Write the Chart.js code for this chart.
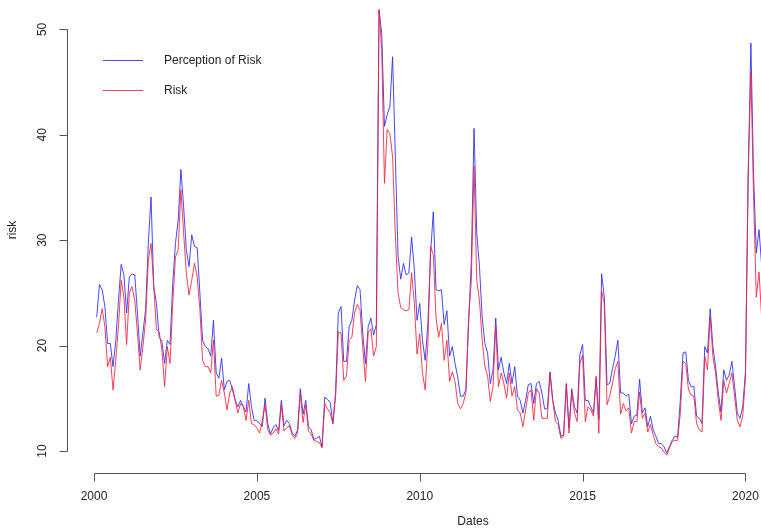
<!DOCTYPE html>
<html>
<head>
<meta charset="utf-8">
<script src="https://cdn.jsdelivr.net/npm/chart.js@4.4.1/dist/chart.umd.min.js"></script>
<style>
  html, body { margin: 0; padding: 0; background: #ffffff; }
  #wrap { width: 761px; height: 532px; overflow: hidden; position: relative; }
  canvas { position: absolute; left: 0; top: 0; }
</style>
</head>
<body>
<div id="wrap"><canvas id="c" width="880" height="532"></canvas></div>
<script>
// Monthly series, starting February 2000
const perception = [
  22.7, 25.8, 25.3, 23.7, 20.2, 20.2, 18.0, 20.4, 24.3, 27.7, 26.7, 23.1,
  26.5, 26.8, 26.7, 23.1, 19.0, 21.2, 23.4, 29.7, 34.1, 25.6, 24.0, 20.8,
  20.4, 18.3, 20.5, 20.1, 25.9, 29.7, 31.9, 36.7, 33.2, 29.1, 27.5, 30.5,
  29.4, 29.3, 25.0, 20.5, 19.9, 19.7, 19.0, 22.4, 17.4, 16.9, 18.8, 15.8,
  16.6, 16.7, 15.8, 14.8, 14.2, 14.8, 14.2, 13.7, 16.4, 14.2, 12.9, 12.9,
  12.6, 12.3, 15.0, 12.6, 11.6, 12.2, 12.5, 11.9, 14.8, 12.4, 12.9, 12.6,
  11.7, 11.4, 12.0, 15.9, 13.5, 14.8, 12.3, 12.0, 11.1, 11.2, 11.4, 10.4,
  15.1, 14.9, 14.6, 12.6, 15.5, 23.1, 23.7, 18.5, 18.5, 21.8, 22.4, 24.3,
  25.7, 25.3, 21.2, 18.3, 21.8, 22.6, 21.0, 22.0, 51.8, 49.6, 40.8, 41.9,
  42.7, 47.4, 38.0, 28.5, 26.3, 27.8, 26.7, 26.9, 30.3, 27.2, 22.4, 24.0,
  20.5, 18.6, 22.1, 28.8, 32.7, 25.3, 25.2, 25.3, 22.0, 23.3, 19.0, 19.9,
  18.3, 17.0, 15.2, 15.2, 15.8, 22.0, 28.0, 40.6, 30.7, 27.5, 22.7, 20.2,
  19.3, 16.4, 17.7, 22.6, 17.7, 18.9, 17.4, 16.4, 18.3, 16.4, 18.0, 15.2,
  14.8, 13.6, 14.8, 16.3, 16.4, 14.5, 16.4, 16.6, 15.5, 14.0, 14.0, 17.5,
  14.8, 13.6, 12.9, 11.4, 11.5, 16.4, 12.2, 15.9, 14.2, 13.6, 19.1, 20.1,
  14.8, 14.8, 14.2, 13.6, 16.9, 13.0, 26.8, 24.6, 16.3, 16.4, 17.8, 19.0,
  20.5, 15.5, 15.5, 15.2, 15.4, 12.6, 13.3, 13.4, 16.8, 13.6, 14.1, 12.3,
  13.3, 12.0, 11.4, 10.7, 10.7, 10.4, 9.8, 10.4, 11.0, 11.4, 11.3, 14.8,
  19.3, 19.4, 16.7, 16.1, 16.1, 13.3, 13.1, 12.6, 19.9, 19.3, 23.5, 19.9,
  18.0, 15.5, 13.7, 17.7, 16.7, 17.2, 18.5, 16.1, 13.6, 13.1, 14.2, 17.5,
  36.0, 48.7, 36.0, 28.8, 31.0, 27.5
];
const risk = [
  21.2, 22.1, 23.5, 21.8, 18.0, 18.9, 15.8, 18.6, 21.8, 26.2, 24.6, 20.1,
  25.0, 25.6, 24.3, 21.2, 17.7, 19.9, 22.4, 28.1, 29.7, 25.6, 21.5, 21.3,
  19.6, 16.1, 19.9, 18.3, 24.0, 28.4, 29.1, 34.8, 30.7, 26.9, 24.8, 26.2,
  27.8, 26.5, 23.4, 18.6, 18.0, 18.0, 17.4, 20.5, 15.2, 15.3, 16.7, 15.5,
  13.9, 15.5, 16.1, 14.8, 13.6, 14.5, 14.2, 12.9, 14.8, 12.6, 12.5, 12.2,
  11.7, 12.9, 14.4, 12.0, 11.5, 11.7, 12.1, 11.6, 14.4, 11.9, 12.2, 12.4,
  11.5, 11.2, 11.7, 15.5, 12.7, 14.4, 11.9, 11.6, 11.0, 10.9, 10.8, 10.3,
  14.5, 14.0, 13.6, 12.6, 15.2, 21.3, 21.2, 16.7, 17.1, 20.5, 20.8, 23.1,
  23.9, 23.4, 19.9, 16.6, 21.2, 21.6, 19.0, 19.9, 51.9, 48.0, 35.4, 40.5,
  40.1, 37.9, 30.5, 25.0, 23.6, 23.4, 23.3, 23.4, 26.9, 24.0, 19.2, 21.1,
  17.4, 15.8, 20.2, 29.4, 28.6, 22.6, 20.8, 22.1, 18.6, 20.5, 16.6, 17.5,
  16.6, 14.5, 14.0, 14.5, 15.5, 22.7, 26.2, 37.0, 26.2, 24.3, 20.5, 18.0,
  17.1, 14.7, 16.1, 21.8, 16.1, 17.4, 16.4, 15.0, 17.4, 15.2, 16.1, 13.9,
  13.6, 12.3, 13.9, 15.5, 15.8, 12.9, 15.9, 15.5, 13.1, 13.1, 13.1, 17.4,
  14.8, 12.8, 12.5, 11.2, 11.4, 16.3, 11.7, 15.6, 13.6, 12.8, 18.3, 19.1,
  12.8, 14.2, 13.9, 13.3, 17.1, 11.7, 25.2, 24.0, 14.4, 15.2, 16.4, 17.8,
  18.5, 13.5, 14.5, 13.8, 14.1, 11.7, 12.8, 12.8, 15.6, 13.1, 13.6, 11.8,
  12.5, 11.5, 10.7, 10.4, 10.3, 9.9, 9.6, 10.3, 10.9, 11.0, 11.0, 13.6,
  18.5, 18.3, 15.8, 15.3, 15.2, 12.6, 12.0, 11.8, 19.0, 17.7, 22.7, 19.0,
  17.4, 14.8, 12.9, 16.7, 15.5, 16.4, 17.4, 15.2, 12.9, 12.3, 13.3, 17.0,
  36.3, 46.0, 34.0, 24.6, 27.0, 22.5
];

// Decimal-year time stamps, one per month
const dates = perception.map((_, i) => 2000 + (i + 1) / 12);

const xTicks = [2000, 2005, 2010, 2015, 2020];
const yTicks = [10, 20, 30, 40, 50];
const seriesNames = ['Perception of Risk', 'Risk'];
const xTitle = 'Dates';
const yTitle = 'risk';

const blue = 'rgba(40, 40, 245, 0.85)';
const red = 'rgba(245, 30, 60, 0.85)';
const axisColor = '#555555';
const textColor = '#222222';
const font = '12px "Liberation Sans", Arial, sans-serif';

function pts(values) {
  return values.map((v, i) => ({ x: dates[i], y: v }));
}

// Base-graphics style axes, labels and legend
const baseAxes = {
  id: 'baseAxes',
  afterDraw(chart) {
    const ctx = chart.ctx;
    const xs = chart.scales.x, ys = chart.scales.y;
    const area = chart.chartArea;
    ctx.save();
    ctx.strokeStyle = axisColor;
    ctx.lineWidth = 1;
    ctx.fillStyle = textColor;
    ctx.font = font;

    // y axis
    const ax = Math.round(area.left) + 0.5;
    const yTop = Math.round(ys.getPixelForValue(yTicks[yTicks.length - 1])) + 0.5;
    const yBot = Math.round(ys.getPixelForValue(yTicks[0])) + 0.5;
    ctx.beginPath();
    ctx.moveTo(ax, yTop); ctx.lineTo(ax, yBot);
    yTicks.forEach(t => {
      const py = Math.round(ys.getPixelForValue(t)) + 0.5;
      ctx.moveTo(ax, py); ctx.lineTo(ax - 8, py);
    });
    ctx.stroke();
    ctx.textAlign = 'center';
    ctx.textBaseline = 'middle';
    yTicks.forEach(t => {
      const py = ys.getPixelForValue(t);
      ctx.save();
      ctx.translate(43, py);
      ctx.rotate(-Math.PI / 2);
      ctx.fillText(String(t), 0, 0);
      ctx.restore();
    });

    // x axis
    const ay = Math.round(area.bottom) + 0.5;
    const xL = Math.round(xs.getPixelForValue(xTicks[0])) + 0.5;
    const xR = Math.round(xs.getPixelForValue(xTicks[xTicks.length - 1])) + 0.5;
    ctx.beginPath();
    ctx.moveTo(xL, ay); ctx.lineTo(xR, ay);
    xTicks.forEach(t => {
      const px = Math.round(xs.getPixelForValue(t)) + 0.5;
      ctx.moveTo(px, ay); ctx.lineTo(px, ay + 8);
    });
    ctx.stroke();
    xTicks.forEach(t => {
      ctx.fillText(String(t), xs.getPixelForValue(t), 497);
    });

    // axis titles
    ctx.fillText(xTitle, (area.left + area.right) / 2, 522);
    ctx.save();
    ctx.translate(13, (area.top - 13 + area.bottom) / 2);
    ctx.rotate(-Math.PI / 2);
    ctx.fillText(yTitle, 0, 0);
    ctx.restore();

    // legend
    const items = [[seriesNames[0], blue, 60], [seriesNames[1], red, 90]];
    ctx.textAlign = 'left';
    items.forEach(([name, col, y]) => {
      ctx.strokeStyle = col;
      ctx.beginPath();
      ctx.moveTo(103, y + 0.5); ctx.lineTo(143, y + 0.5);
      ctx.stroke();
      ctx.fillStyle = textColor;
      ctx.fillText(name, 164, y + 1);
    });
    ctx.restore();
  }
};

new Chart(document.getElementById('c'), {
  type: 'line',
  data: {
    datasets: [
      { label: seriesNames[0], data: pts(perception), borderColor: blue, borderWidth: 1, order: 2 },
      { label: seriesNames[1], data: pts(risk), borderColor: red, borderWidth: 1, order: 1 }
    ]
  },
  options: {
    responsive: false,
    animation: false,
    devicePixelRatio: 1,
    layout: { padding: { left: 67, top: 0, right: 1, bottom: 59 } },
    elements: { point: { radius: 0 }, line: { tension: 0 } },
    plugins: { legend: { display: false }, tooltip: { enabled: false } },
    scales: {
      x: { type: 'linear', min: 1999.17, max: 2024.1, display: false },
      y: { type: 'linear', min: 7.91, max: 52.79, display: false }
    }
  },
  plugins: [baseAxes]
});
</script>
</body>
</html>
